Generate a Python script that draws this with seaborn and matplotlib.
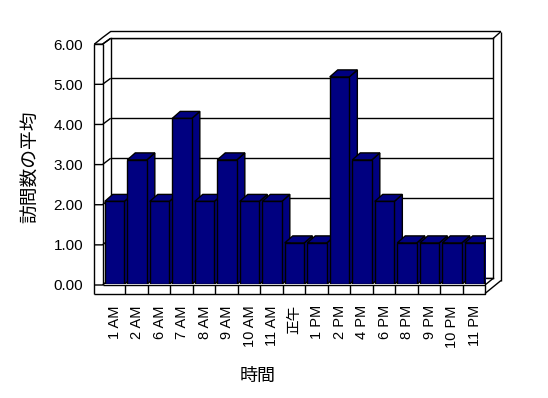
import matplotlib
matplotlib.use('Agg')
import matplotlib.pyplot as plt
import seaborn as sns
from matplotlib.patches import Polygon

hours = ['1 AM', '2 AM', '6 AM', '7 AM', '8 AM', '9 AM', '10 AM', '11 AM', '正午',
         '1 PM', '2 PM', '4 PM', '6 PM', '8 PM', '9 PM', '10 PM', '11 PM']
avg_visits = [2, 3, 2, 4, 2, 3, 2, 2, 1, 1, 5, 3, 2, 1, 1, 1, 1]
y_ticks = [0, 1, 2, 3, 4, 5, 6]
x_title = '時間'
y_title = '訪問数の平均'

W, H = 548, 398
NAVY = '#000080'

sns.set_theme(style='white')
plt.rcParams['font.family'] = ['Liberation Sans', 'Noto Sans CJK JP']

fig = plt.figure(figsize=(W / 100, H / 100), dpi=100)
fig.patch.set_facecolor('white')


def box(x0, y0, x1, y1):
    """pixel box (top-left origin) -> figure fraction rect"""
    return [x0 / W, 1 - y1 / H, (x1 - x0) / W, (y1 - y0) / H]


# layout of the fake 3d frame, in pixels
WALL_X = 94.3
FX0, FX1 = 102.5, 485.0     # floor front edge
BX0, BX1 = 110.7, 493.3     # back wall
OUT_X, OUT_Y = 501.0, 31.5  # outer edge of wall thickness
FRONT_0, FRONT_TOP = 285.0, 44.2
BACK_0, BACK_TOP = 278.3, 38.3
SLAB_Y = 293.5
ymax = y_ticks[-1]


def front_y(v):
    return FRONT_0 - (FRONT_0 - FRONT_TOP) * v / ymax


def back_y(v):
    return BACK_0 - (BACK_0 - BACK_TOP) * v / ymax


# decoration layer: walls and floor
deco = fig.add_axes([0, 0, 1, 1], zorder=0)
deco.set_xlim(0, W)
deco.set_ylim(H, 0)
deco.axis('off')
kw = dict(color='black', lw=1, solid_capstyle='butt')

deco.plot([WALL_X, WALL_X], [FRONT_TOP, SLAB_Y], **kw)
deco.plot([FX0, FX0], [FRONT_TOP, FRONT_0], **kw)
deco.plot([WALL_X, FX0], [FRONT_TOP, FRONT_TOP], **kw)
deco.plot([WALL_X, FX0, BX0, OUT_X], [FRONT_TOP, 37.6, OUT_Y, OUT_Y], **kw)
deco.plot([FX0, BX0], [FRONT_TOP, BACK_TOP], **kw)
deco.plot([BX1, OUT_X], [BACK_TOP, OUT_Y], **kw)
deco.plot([OUT_X, OUT_X], [OUT_Y, 280.5], **kw)
for v in y_ticks:
    deco.plot([WALL_X, FX0, BX0], [front_y(v), front_y(v), back_y(v)], **kw)

# floor slab
slot = (FX1 - FX0) / len(hours)
deco.plot([FX0, FX1, FX1, WALL_X], [FRONT_0, FRONT_0, SLAB_Y, SLAB_Y], **kw)
for j in range(1, len(hours)):
    xj = FX0 + slot * j
    deco.plot([xj, xj], [FRONT_0, SLAB_Y], **kw)
deco.plot([FX1, BX1], [FRONT_0, BACK_0], **kw)
deco.plot([FX1, OUT_X], [SLAB_Y, 280.5], **kw)

# back wall with gridlines
ax_back = fig.add_axes(box(BX0, BACK_TOP, BX1, BACK_0), zorder=1)
ax_back.set_facecolor('white')
ax_back.set_ylim(0, ymax)
ax_back.set_yticks(y_ticks)
ax_back.set_xticks([])
ax_back.tick_params(left=False, labelleft=False)
ax_back.yaxis.grid(True, color='black', lw=1)
for s in ax_back.spines.values():
    s.set_color('black')
    s.set_linewidth(1)

# tick labels on the left wall
ax_front = fig.add_axes(box(WALL_X, FRONT_TOP, FX0, FRONT_0), zorder=1)
ax_front.patch.set_visible(False)
ax_front.set_ylim(0, ymax)
ax_front.set_yticks(y_ticks)
ax_front.set_yticklabels([f'{v:.2f}' for v in y_ticks])
ax_front.set_xticks([])
ax_front.tick_params(axis='y', length=0, pad=8, labelsize=11, colors='black')
sns.despine(ax=ax_front, left=True, bottom=True)

# bars
PX_UNIT = 41.5
BAR_0 = 284.4
ax_bar = fig.add_axes(box(FX0 + 0.8, BAR_0 - ymax * PX_UNIT, FX1 + 0.8, BAR_0), zorder=2)
ax_bar.patch.set_visible(False)
sns.barplot(x=hours, y=avg_visits, color=NAVY, saturation=1, width=0.87,
            edgecolor='black', linewidth=1, ax=ax_bar)
ax_bar.set_xlim(-0.5, len(hours) - 0.5)
ax_bar.set_ylim(0, ymax)

dx = 8 / slot
dy = 7 / PX_UNIT
for i, p in enumerate(ax_bar.patches):
    x0, w, h = p.get_x(), p.get_width(), p.get_height()
    p.set_zorder(3 + 2 * i + 1)
    side = Polygon([(x0 + w, 0), (x0 + w + dx, dy), (x0 + w + dx, h + dy), (x0 + w, h)],
                   closed=True, fc=NAVY, ec='black', lw=1, zorder=3 + 2 * i)
    top = Polygon([(x0, h), (x0 + dx, h + dy), (x0 + w + dx, h + dy), (x0 + w, h)],
                  closed=True, fc=NAVY, ec='black', lw=1, zorder=3 + 2 * i)
    ax_bar.add_patch(side)
    ax_bar.add_patch(top)

ax_bar.set_xticks(range(len(hours)))
ax_bar.set_xticklabels(hours, rotation=90, fontsize=10.5, color='black')
ax_bar.tick_params(axis='x', length=0, pad=15)
ax_bar.set_yticks([])
ax_bar.set_xlabel('')
ax_bar.set_ylabel('')
sns.despine(ax=ax_bar, left=True, bottom=True)

fig.text(257.7 / W, 1 - 376.7 / H, x_title, ha='center', va='center', fontsize=13, color='black')
fig.text(32 / W, 1 - 167 / H, y_title, rotation=90, ha='center', va='center', fontsize=13.5, color='black')

fig.savefig('out.png', dpi=100)
